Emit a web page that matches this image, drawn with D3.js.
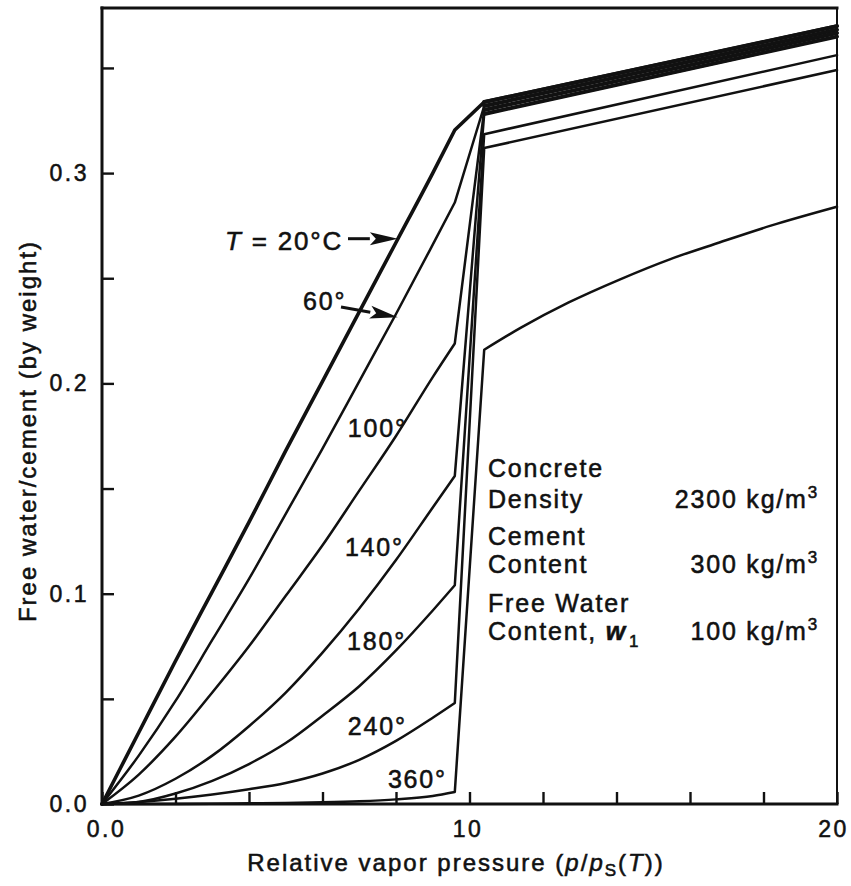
<!DOCTYPE html>
<html>
<head>
<meta charset="utf-8">
<script src="https://cdn.jsdelivr.net/npm/d3@7"></script>
<style>
  html, body { margin: 0; padding: 0; background: #fff; }
  svg { display: block; font-family: "Liberation Sans", Arial, Helvetica, sans-serif; }
  svg text { stroke: #111; stroke-width: 0.55px; }
</style>
</head>
<body>
<svg id="chart" width="851" height="886"></svg>
<script>
// Temperature series (°C)
const temps = ["20°", "60°", "100°", "140°", "180°", "240°", "360°"];

// Rising branch: relative vapor pressure up to the start of the transition
const hLow = [0, 1, 2, 3, 4, 5, 6, 7, 8, 9, 9.6];
const w20Low  = [0, 0.034, 0.068, 0.101, 0.134, 0.168, 0.201, 0.234, 0.267, 0.300, 0.3205];
const w60Low  = [0, 0.023, 0.049, 0.078, 0.107, 0.138, 0.169, 0.201, 0.233, 0.266, 0.286];
const w100Low = [0, 0.014, 0.032, 0.053, 0.075, 0.099, 0.123, 0.149, 0.175, 0.203, 0.219];
const w140Low = [0, 0.004, 0.012, 0.023, 0.037, 0.053, 0.072, 0.093, 0.116, 0.141, 0.156];
const w180Low = [0, 0.001, 0.005, 0.011, 0.019, 0.029, 0.042, 0.056, 0.073, 0.092, 0.104];
const w240Low = [0, 0.001, 0.0025, 0.0045, 0.007, 0.010, 0.0145, 0.021, 0.030, 0.041, 0.048];
const w360Low = [0, 0, 0, 0.0001, 0.0003, 0.0005, 0.0008, 0.0013, 0.0022, 0.0038, 0.0057];

// Saturated branch: from the end of the transition to the right edge
const hHigh = [10.4, 20];
const w20High  = [0.3338, 0.3699];
const w60High  = [0.3319, 0.3682];
const w100High = [0.3300, 0.3666];
const w140High = [0.3281, 0.3649];
const w180High = [0.3185, 0.3561];
const w240High = [0.3119, 0.3490];
const hHigh360 = [10.4, 11.4, 12.7, 14.1, 15.45, 16.8, 18.2, 20];
const w360High = [0.216, 0.2265, 0.2385, 0.2495, 0.2590, 0.2670, 0.2750, 0.2840];

// Axis ticks
const xTickValues = [0, 2, 4, 6, 8, 10, 12, 14, 16, 18, 20];
const xTickText   = ["0.0", "", "", "", "", "10", "", "", "", "", "20"];
const yTickValues = [0, 0.05, 0.1, 0.15, 0.2, 0.25, 0.3, 0.35];
const yTickText   = ["0.0", "", "0.1", "", "0.2", "", "0.3", ""];

// Mix properties listed inside the plot
const mixLabels = ["Concrete", "Density", "Cement", "Content", "Free Water", "Content, "];
const mixValues = ["", "2300", "", "300", "", "100"];

// ---------------------------------------------------------------------------
const svg = d3.select("#chart");
const x = d3.scaleLinear().domain([0, 20]).range([102, 837]);
const y = d3.scaleLinear().domain([0, 0.3785]).range([804, 8]);

const lows  = [w20Low, w60Low, w100Low, w140Low, w180Low, w240Low, w360Low];
const highs = [w20High, w60High, w100High, w140High, w180High, w240High, w360High];
const highX = [hHigh, hHigh, hHigh, hHigh, hHigh, hHigh, hHigh360];

const series = temps.map((t, i) => ({
  name: t,
  low: hLow.map((h, j) => [h, lows[i][j]]),
  high: highX[i].map((h, j) => [h, highs[i][j]])
}));

const line = d3.line()
  .x(d => x(d[0]))
  .y(d => y(d[1]))
  .curve(d3.curveMonotoneX);

const tickFont = 23;

// x axis
const gx = svg.append("g")
  .attr("transform", `translate(0,${y(0)})`)
  .call(d3.axisBottom(x)
    .tickValues(xTickValues)
    .tickSize(-12)
    .tickPadding(17)
    .tickFormat((d, i) => xTickText[i]));
gx.select(".domain").remove();
gx.selectAll(".tick line").attr("stroke", "#111").attr("stroke-width", 2.4);
gx.selectAll(".tick text")
  .attr("fill", "#111")
  .style("font-size", tickFont + "px")
  .style("letter-spacing", "2.5px")
  .style("font-family", "'Liberation Sans', Arial, sans-serif")
  .attr("dx", (d, i) => (i === 0 ? 4 : i === xTickValues.length - 1 ? -4 : -2));

// y axis
const gy = svg.append("g")
  .attr("transform", `translate(${x(0)},0)`)
  .call(d3.axisLeft(y)
    .tickValues(yTickValues)
    .tickSize(-12)
    .tickPadding(13)
    .tickFormat((d, i) => yTickText[i]));
gy.select(".domain").remove();
gy.selectAll(".tick line").attr("stroke", "#111").attr("stroke-width", 2.4);
gy.selectAll(".tick text")
  .attr("fill", "#111")
  .style("font-size", tickFont + "px")
  .style("letter-spacing", "2.5px")
  .style("font-family", "'Liberation Sans', Arial, sans-serif");

// plot frame
const frame = svg.append("g").attr("stroke", "#111").attr("fill", "none").attr("stroke-linecap", "square");
frame.append("line").attr("x1", x(0)).attr("x2", x(0)).attr("y1", y.range()[1]).attr("y2", y(0)).attr("stroke-width", 3);
frame.append("line").attr("x1", x(0)).attr("x2", x(20)).attr("y1", y(0)).attr("y2", y(0)).attr("stroke-width", 3);
frame.append("line").attr("x1", x(0)).attr("x2", x(20)).attr("y1", y.range()[1]).attr("y2", y.range()[1]).attr("stroke-width", 3);
frame.append("line").attr("x1", x(20)).attr("x2", x(20)).attr("y1", y.range()[1]).attr("y2", y(0)).attr("stroke-width", 2);

// curves: rising branch, straight transition, saturated branch as one path
const curves = svg.append("g").attr("fill", "none").attr("stroke", "#111")
  .attr("stroke-linejoin", "round").attr("stroke-linecap", "round");
curves.selectAll("path.curve")
  .data(series)
  .join("path")
  .attr("class", "curve")
  .attr("stroke-width", (d, i) => (i === 0 ? 3.6 : 2.5))
  .attr("d", d => line(d.low) + line(d.high).replace(/^M/, "L"));

// the four coolest curves merge into one heavy band on the saturated side
curves.selectAll("path.band")
  .data(series.slice(0, 4))
  .join("path")
  .attr("class", "band")
  .attr("stroke-width", 3.9)
  .attr("d", d => line(d.high));

// temperature labels
const labelFont = "25px";
const ann = svg.append("g").attr("fill", "#111")
  .style("font-size", labelFont).style("letter-spacing", "1.8px");

const t20 = ann.append("text").attr("x", x(3.35)).attr("y", y(0.2634)).style("font-size", "26px");
t20.append("tspan").attr("font-style", "italic").text("T");
t20.append("tspan").text(" = 20°C");

ann.append("text").attr("x", x(5.47)).attr("y", y(0.2349)).text(temps[1]);
const otherLabelPos = [[6.69, 0.1745], [6.61, 0.1180], [6.67, 0.0732], [6.69, 0.0328], [7.78, 0.0076]];
otherLabelPos.forEach((p, k) => {
  ann.append("text").attr("x", x(p[0])).attr("y", y(p[1])).text(temps[k + 2]);
});

// arrows pointing at the 20° and 60° curves
function arrow(x1, y1, x2, y2) {
  const ang = Math.atan2(y2 - y1, x2 - x1);
  const len = 28, half = 6.5;
  const bx = x2 - len * Math.cos(ang), by = y2 - len * Math.sin(ang);
  svg.append("line").attr("x1", x1).attr("y1", y1).attr("x2", bx).attr("y2", by)
    .attr("stroke", "#111").attr("stroke-width", 3);
  svg.append("path")
    .attr("d", `M${x2},${y2}L${bx + half * Math.sin(ang)},${by - half * Math.cos(ang)}L${bx + 6 * Math.cos(ang)},${by + 6 * Math.sin(ang)}L${bx - half * Math.sin(ang)},${by + half * Math.cos(ang)}Z`)
    .attr("fill", "#111");
}
arrow(348, y(0.2688), x(8.05), y(0.2688));
arrow(341, 307, x(8.05), y(0.2315));

// mix properties block
const mixBase = [476.7, 508.3, 545, 573.3, 611.7, 640];
const mix = svg.append("g").attr("fill", "#111")
  .style("font-size", "25px").style("letter-spacing", "1.8px");
mixLabels.forEach((s, i) => {
  const t = mix.append("text").attr("x", 488).attr("y", mixBase[i]).text(s);
  if (i === 5) {
    t.append("tspan").attr("font-style", "italic").attr("font-weight", "bold").text("w");
    t.append("tspan").style("font-size", "17px").attr("dy", 7).attr("dx", 2).text("1");
  }
  if (mixValues[i]) {
    const v = mix.append("text").attr("x", 819).attr("y", mixBase[i]).attr("text-anchor", "end");
    v.append("tspan").text(mixValues[i] + " kg/m");
    v.append("tspan").style("font-size", "17px").attr("dy", -10).text("3");
  }
});

// axis titles
const xt = svg.append("text")
  .attr("x", 456).attr("y", 871).attr("text-anchor", "middle").attr("fill", "#111")
  .style("font-size", "24px").style("letter-spacing", "2px");
xt.append("tspan").text("Relative vapor pressure (");
xt.append("tspan").attr("font-style", "italic").text("p");
xt.append("tspan").text("/");
xt.append("tspan").attr("font-style", "italic").text("p");
xt.append("tspan").style("font-size", "17px").attr("dy", 5).text("S");
xt.append("tspan").attr("dy", -5).text("(");
xt.append("tspan").attr("font-style", "italic").text("T");
xt.append("tspan").text("))");

svg.append("text")
  .attr("transform", "translate(36,431) rotate(-90)")
  .attr("text-anchor", "middle").attr("fill", "#111")
  .style("font-size", "24px").style("letter-spacing", "2px")
  .text("Free water/cement (by weight)");
</script>
</body>
</html>
